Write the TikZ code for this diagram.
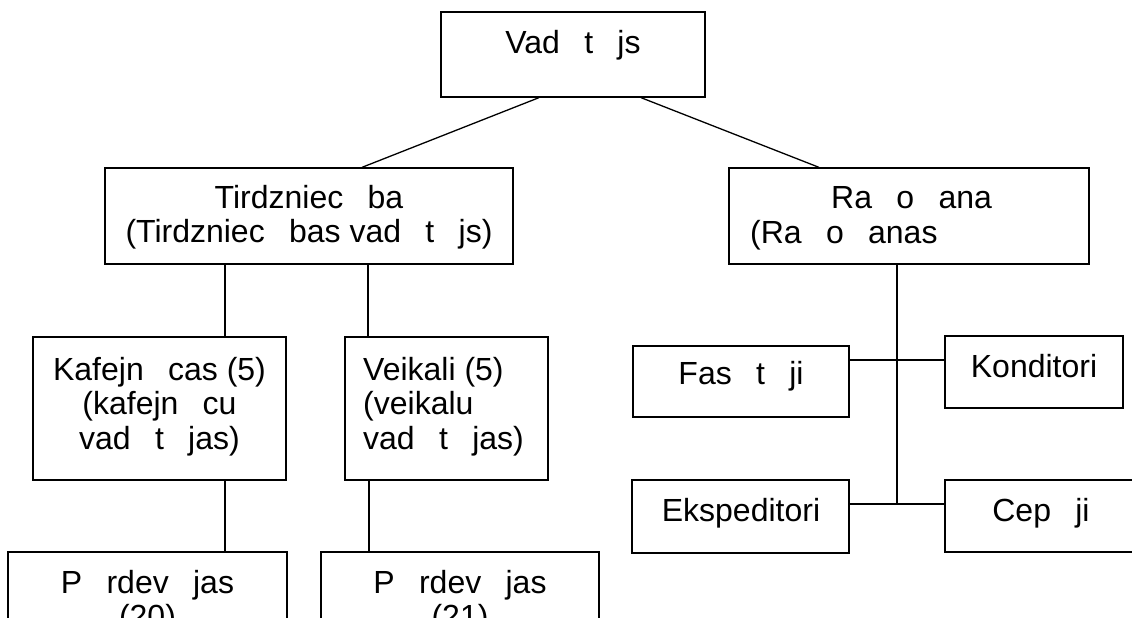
\documentclass[tikz,border=0pt]{standalone}
\usepackage{fontspec}
\setmainfont{Liberation Sans}
\newcommand{\gp}{\hspace{0.76em}}
\begin{document}
\begin{tikzpicture}[x=1pt,y=-1pt,
  box/.style={draw, line width=1.3pt, inner sep=0pt},
  txt/.style={inner sep=0pt, anchor=base, font=\fontsize{32}{34.5}\selectfont},
  ltxt/.style={txt, anchor=base west},
  conn/.style={line width=1.3pt}]
\useasboundingbox (0,0) rectangle (1132,618);
\clip (0,0) rectangle (1132,618);
% boxes
\node[box, minimum width=264pt, minimum height=85pt] (top) at (573,54.5) {};
\node[box, minimum width=408pt, minimum height=96pt] (tirdz) at (309,216) {};
\node[box, minimum width=360pt, minimum height=96pt] (rao) at (909,216) {};
\node[box, minimum width=253pt, minimum height=143pt] (kaf) at (159.5,408.5) {};
\node[box, minimum width=203pt, minimum height=143pt] (veik) at (446.5,408.5) {};
\node[box, minimum width=216pt, minimum height=71pt] (fas) at (741,381.5) {};
\node[box, minimum width=178pt, minimum height=72pt] (kond) at (1034,372) {};
\node[box, minimum width=217pt, minimum height=73pt] (eksp) at (740.5,516.5) {};
\node[box, minimum width=192pt, minimum height=72pt] (cep) at (1041,516) {};
\node[box, minimum width=279pt, minimum height=143pt] (p1) at (147.5,623.5) {};
\node[box, minimum width=278pt, minimum height=143pt] (p2) at (460,623.5) {};
% texts
\node[txt] (t-top) at (573,53) {Vad\gp t\gp js};
\node[txt] (t-tirdz1) at (309,208) {Tirdzniec\gp ba};
\node[txt] (t-tirdz2) at (309,242) {(Tirdzniec\gp bas vad\gp t\gp js)};
\node[ltxt] (t-rao1) at (831,208) {Ra\gp o\gp ana};
\node[ltxt] (t-rao2) at (750,243) {(Ra\gp o\gp anas};
\node[txt] (t-kaf1) at (159.5,380) {Kafejn\gp cas (5)};
\node[txt] (t-kaf2) at (159.5,414.5) {(kafejn\gp cu};
\node[txt] (t-kaf3) at (159.5,449) {vad\gp t\gp jas)};
\node[ltxt] (t-veik1) at (363,380) {Veikali (5)};
\node[ltxt] (t-veik2) at (363,414.5) {(veikalu};
\node[ltxt] (t-veik3) at (363,449) {vad\gp t\gp jas)};
\node[txt] (t-fas) at (741,384) {Fas\gp t\gp ji};
\node[txt] (t-kond) at (1034,377) {Konditori};
\node[txt] (t-eksp) at (741,521) {Ekspeditori};
\node[txt] (t-cep) at (1041,521) {Cep\gp ji};
\node[txt] (t-p1a) at (147.5,593) {P\gp rdev\gp jas};
\node[txt] (t-p1b) at (147.5,627.5) {(20)};
\node[txt] (t-p2a) at (460,593) {P\gp rdev\gp jas};
\node[txt] (t-p2b) at (460,627.5) {(21)};
% connectors
\coordinate (j1) at (897,360);
\coordinate (j2) at (897,504);
\draw[conn] ([xshift=-34pt]top.south) -- ([xshift=53pt]tirdz.north);
\draw[conn] ([xshift=68pt]top.south) -- ([xshift=-90pt]rao.north);
\draw[conn] ([xshift=65.5pt]kaf.north) -- ([xshift=65.5pt]kaf.north |- tirdz.south);
\draw[conn] ([xshift=-78.5pt]veik.north) -- ([xshift=-78.5pt]veik.north |- tirdz.south);
\draw[conn] ([xshift=77.5pt]p1.north) -- ([xshift=77.5pt]p1.north |- kaf.south);
\draw[conn] ([xshift=-91pt]p2.north) -- ([xshift=-91pt]p2.north |- veik.south);
\draw[conn] ([xshift=-12pt]rao.south) -- (j2);
\draw[conn] ([yshift=21.5pt]fas.east) -- ([yshift=12pt]kond.west);
\draw[conn] ([yshift=12.5pt]eksp.east) -- ([yshift=12pt]cep.west);
\end{tikzpicture}
\end{document}
